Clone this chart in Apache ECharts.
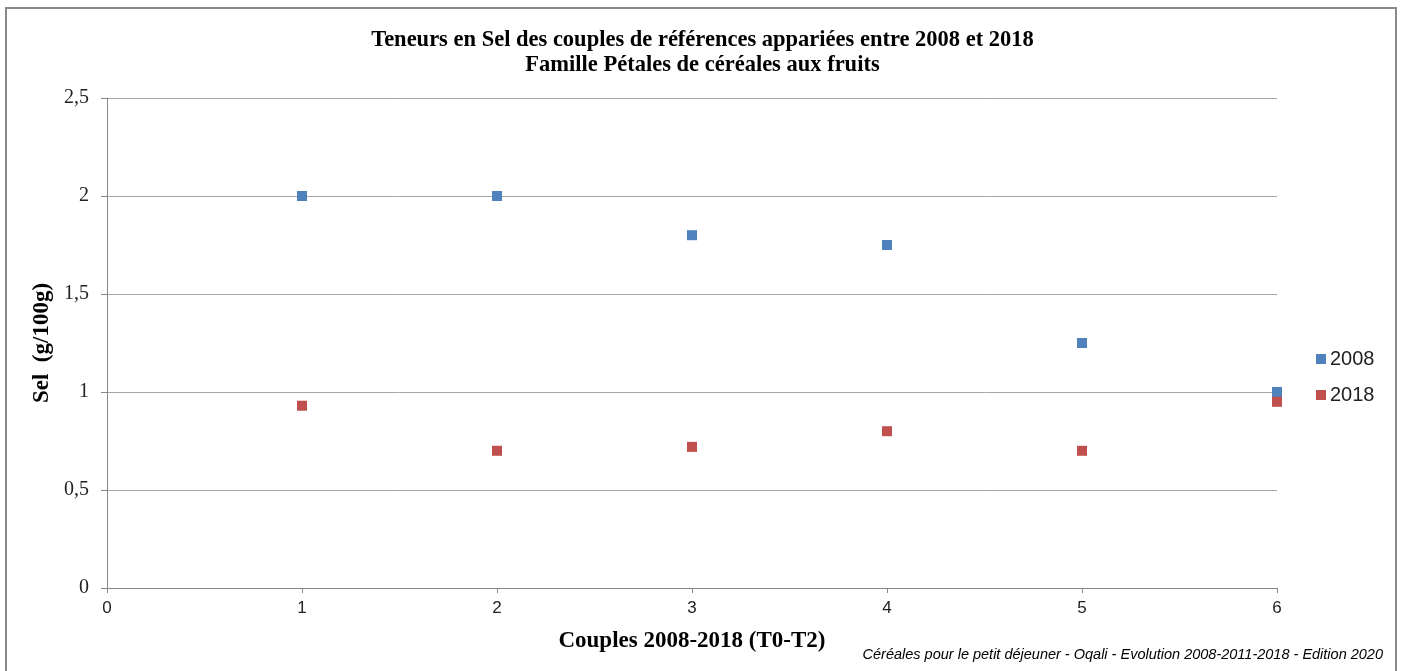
<!DOCTYPE html>
<html>
<head>
<meta charset="utf-8">
<script src="https://cdn.jsdelivr.net/npm/echarts@6/dist/echarts.min.js"></script>
<style>
  html, body { margin: 0; padding: 0; background: #ffffff; }
  #chart { width: 1405px; height: 671px; }
</style>
</head>
<body>
<div id="chart"></div>
<script>
// Salt content (g/100g) for each matched product pair
const couples = [1, 2, 3, 4, 5, 6];
const sel2008 = [2.0, 2.0, 1.8, 1.75, 1.25, 1.0];
const sel2018 = [0.93, 0.70, 0.72, 0.80, 0.70, 0.95];
const seriesNames = ['2008', '2018'];
const titleLines = [
  'Teneurs en Sel des couples de références appariées entre 2008 et 2018',
  'Famille Pétales de céréales aux fruits'
];
const xAxisTitle = 'Couples 2008-2018 (T0-T2)';
const yAxisTitle = 'Sel  (g/100g)';
const footer = 'Céréales pour le petit déjeuner - Oqali - Evolution 2008-2011-2018 - Edition 2020';

const serif = '"Liberation Serif", "DejaVu Serif", serif';
const sans = '"Liberation Sans", "Open Sans", sans-serif';

const toPairs = (vals) => couples.map((c, i) => [c, vals[i]]);

const chart = echarts.init(document.getElementById('chart'), null, { renderer: 'canvas' });
chart.setOption({
  backgroundColor: '#ffffff',
  animation: false,
  title: {
    text: titleLines.join('\n'),
    left: 'center',
    top: 23,
    textStyle: {
      fontFamily: serif,
      fontWeight: 'bold',
      fontSize: 22.5,
      lineHeight: 25,
      color: '#000000'
    }
  },
  graphic: [
    {
      type: 'rect',
      shape: { x: 6, y: 8, width: 1390, height: 700 },
      style: { fill: 'none', stroke: '#8a8a8a', lineWidth: 2 },
      silent: true
    },
    {
      type: 'text',
      right: 22,
      top: 647,
      style: {
        text: footer,
        font: 'italic 14.5px ' + sans,
        fill: '#000000'
      }
    }
  ],
  legend: {
    orient: 'vertical',
    left: 1311,
    top: 344,
    itemWidth: 10,
    itemHeight: 10,
    itemGap: 16,
    icon: 'rect',
    data: seriesNames,
    textStyle: { fontFamily: sans, fontSize: 20, color: '#222222', padding: [0, 0, 0, -1] }
  },
  grid: { left: 107, right: 128, top: 98, bottom: 83, containLabel: false },
  xAxis: {
    type: 'value',
    min: 0,
    max: 6,
    interval: 1,
    name: xAxisTitle,
    nameLocation: 'middle',
    nameGap: 42,
    nameTextStyle: { fontFamily: serif, fontWeight: 'bold', fontSize: 23, color: '#000000' },
    axisLine: { show: true, lineStyle: { color: '#868686', width: 1 } },
    axisTick: { show: true, length: 5, inside: false, lineStyle: { color: '#868686' } },
    axisLabel: { fontFamily: sans, fontSize: 17, color: '#222222', margin: 12 },
    splitLine: { show: false }
  },
  yAxis: {
    type: 'value',
    min: 0,
    max: 2.5,
    interval: 0.5,
    name: yAxisTitle,
    nameLocation: 'middle',
    nameGap: 50,
    nameRotate: 90,
    nameTextStyle: { fontFamily: serif, fontWeight: 'bold', fontSize: 23, color: '#000000' },
    axisLine: { show: true, lineStyle: { color: '#868686', width: 1 } },
    axisTick: { show: true, length: 6, lineStyle: { color: '#868686' } },
    axisLabel: {
      fontFamily: serif,
      fontSize: 20,
      color: '#222222',
      margin: 18,
      formatter: (v) => String(v).replace('.', ',')
    },
    splitLine: { show: true, lineStyle: { color: '#a6a6a6', width: 1 } }
  },
  series: [
    {
      name: seriesNames[0],
      type: 'scatter',
      symbol: 'rect',
      symbolSize: 10,
      itemStyle: { color: '#4f81bd', opacity: 1 },
      data: toPairs(sel2008)
    },
    {
      name: seriesNames[1],
      type: 'scatter',
      symbol: 'rect',
      symbolSize: 10,
      itemStyle: { color: '#c0504d', opacity: 1 },
      data: toPairs(sel2018)
    }
  ]
});
</script>
</body>
</html>
